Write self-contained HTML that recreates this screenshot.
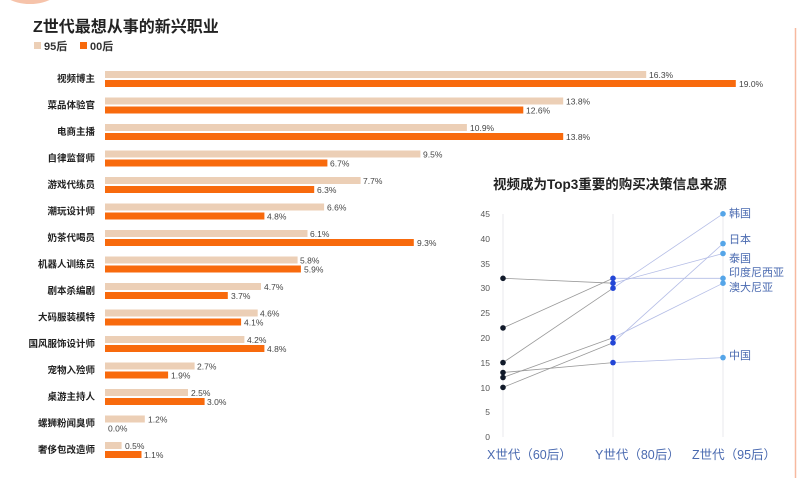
<!DOCTYPE html>
<html><head><meta charset="utf-8"><style>
body{margin:0;background:#fff;}
svg{display:block;font-family:"Liberation Sans","Noto Sans CJK SC",sans-serif;}
</style></head><body>
<svg width="800" height="478" viewBox="0 0 800 478" xmlns="http://www.w3.org/2000/svg">
<rect width="800" height="478" fill="#fff"/>
<ellipse cx="30" cy="-18" rx="34" ry="22" fill="#f6c3aa"/>
<line x1="795.5" y1="28" x2="795.5" y2="478" stroke="#f7b9a0" stroke-width="1.5"/>
<text x="33" y="32" font-size="16" font-weight="bold" fill="#222">Z世代最想从事的新兴职业</text>
<rect x="34" y="42" width="7" height="7" fill="#eccfb6"/>
<text x="44" y="50" font-size="11" font-weight="bold" fill="#333">95后</text>
<rect x="80" y="42" width="7" height="7" fill="#f86a0d"/>
<text x="90" y="50" font-size="11" font-weight="bold" fill="#333">00后</text>
<g font-size="9.5" font-weight="bold" fill="#222" text-anchor="end">
<text x="95" y="82">视频博主</text>
<text x="95" y="108.5">菜品体验官</text>
<text x="95" y="135">电商主播</text>
<text x="95" y="161.5">自律监督师</text>
<text x="95" y="188">游戏代练员</text>
<text x="95" y="214.5">潮玩设计师</text>
<text x="95" y="241">奶茶代喝员</text>
<text x="95" y="267.5">机器人训练员</text>
<text x="95" y="294">剧本杀编剧</text>
<text x="95" y="320.5">大码服装模特</text>
<text x="95" y="347">国风服饰设计师</text>
<text x="95" y="373.5">宠物入殓师</text>
<text x="95" y="400">桌游主持人</text>
<text x="95" y="426.5">螺狮粉闻臭师</text>
<text x="95" y="453">奢侈包改造师</text>
</g>
<g fill="#eccfb6">
<rect x="105" y="71" width="541.2" height="7"/>
<rect x="105" y="97.5" width="458.2" height="7"/>
<rect x="105" y="124" width="361.9" height="7"/>
<rect x="105" y="150.5" width="315.4" height="7"/>
<rect x="105" y="177" width="255.6" height="7"/>
<rect x="105" y="203.5" width="219.1" height="7"/>
<rect x="105" y="230" width="202.5" height="7"/>
<rect x="105" y="256.5" width="192.6" height="7"/>
<rect x="105" y="283" width="156" height="7"/>
<rect x="105" y="309.5" width="152.7" height="7"/>
<rect x="105" y="336" width="139.4" height="7"/>
<rect x="105" y="362.5" width="89.6" height="7"/>
<rect x="105" y="389" width="83" height="7"/>
<rect x="105" y="415.5" width="39.8" height="7"/>
<rect x="105" y="442" width="16.6" height="7"/>
</g>
<g fill="#f86a0d">
<rect x="105" y="80" width="630.8" height="7"/>
<rect x="105" y="106.5" width="418.3" height="7"/>
<rect x="105" y="133" width="458.2" height="7"/>
<rect x="105" y="159.5" width="222.4" height="7"/>
<rect x="105" y="186" width="209.2" height="7"/>
<rect x="105" y="212.5" width="159.4" height="7"/>
<rect x="105" y="239" width="308.8" height="7"/>
<rect x="105" y="265.5" width="195.9" height="7"/>
<rect x="105" y="292" width="122.8" height="7"/>
<rect x="105" y="318.5" width="136.1" height="7"/>
<rect x="105" y="345" width="159.4" height="7"/>
<rect x="105" y="371.5" width="63.1" height="7"/>
<rect x="105" y="398" width="99.6" height="7"/>
<rect x="105" y="451" width="36.5" height="7"/>
</g>
<g font-size="8.5" fill="#444">
<text x="649" y="78">16.3%</text><text x="739" y="87">19.0%</text>
<text x="566" y="104.5">13.8%</text><text x="526" y="113.5">12.6%</text>
<text x="470" y="131">10.9%</text><text x="566" y="140">13.8%</text>
<text x="423" y="157.5">9.5%</text><text x="330" y="166.5">6.7%</text>
<text x="363" y="184">7.7%</text><text x="317" y="193">6.3%</text>
<text x="327" y="210.5">6.6%</text><text x="267" y="219.5">4.8%</text>
<text x="310" y="237">6.1%</text><text x="417" y="246">9.3%</text>
<text x="300" y="263.5">5.8%</text><text x="304" y="272.5">5.9%</text>
<text x="264" y="290">4.7%</text><text x="231" y="299">3.7%</text>
<text x="260" y="316.5">4.6%</text><text x="244" y="325.5">4.1%</text>
<text x="247" y="343">4.2%</text><text x="267" y="352">4.8%</text>
<text x="197" y="369.5">2.7%</text><text x="171" y="378.5">1.9%</text>
<text x="191" y="396">2.5%</text><text x="207" y="405">3.0%</text>
<text x="148" y="422.5">1.2%</text><text x="108" y="431.5">0.0%</text>
<text x="125" y="449">0.5%</text><text x="144" y="458">1.1%</text>
</g>
<!-- right chart -->
<text x="493" y="189" font-size="13.5" font-weight="bold" fill="#222">视频成为Top3重要的购买决策信息来源</text>
<g stroke="#e8e8ee" stroke-width="1">
<line x1="503" y1="214" x2="503" y2="437"/>
<line x1="613" y1="214" x2="613" y2="437"/>
<line x1="723" y1="214" x2="723" y2="437"/>
</g>
<g font-size="8.5" fill="#555" text-anchor="end">
<text x="490" y="217">45</text><text x="490" y="242">40</text><text x="490" y="267">35</text>
<text x="490" y="291">30</text><text x="490" y="316">25</text><text x="490" y="341">20</text>
<text x="490" y="366">15</text><text x="490" y="391">10</text><text x="490" y="415">5</text>
<text x="490" y="440">0</text>
</g>
<g stroke="#999" stroke-width="0.8" fill="none">
<line x1="503" y1="278.3" x2="613" y2="283.2"/>
<line x1="503" y1="327.9" x2="613" y2="278.3"/>
<line x1="503" y1="362.6" x2="613" y2="288.2"/>
<line x1="503" y1="372.5" x2="613" y2="362.6"/>
<line x1="503" y1="377.5" x2="613" y2="337.8"/>
<line x1="503" y1="387.4" x2="613" y2="342.8"/>
</g>
<g stroke="#b4bde6" stroke-width="0.8" fill="none">
<line x1="613" y1="288.2" x2="723" y2="213.8"/>
<line x1="613" y1="342.8" x2="723" y2="243.6"/>
<line x1="613" y1="283.2" x2="723" y2="253.5"/>
<line x1="613" y1="278.3" x2="723" y2="278.3"/>
<line x1="613" y1="337.8" x2="723" y2="283.2"/>
<line x1="613" y1="362.6" x2="723" y2="357.6"/>
</g>
<g fill="#111a2a">
<circle cx="503" cy="278.3" r="2.8"/><circle cx="503" cy="327.9" r="2.8"/>
<circle cx="503" cy="362.6" r="2.8"/><circle cx="503" cy="372.5" r="2.8"/>
<circle cx="503" cy="377.5" r="2.8"/><circle cx="503" cy="387.4" r="2.8"/>
</g>
<g fill="#2346d6">
<circle cx="613" cy="278.3" r="2.8"/><circle cx="613" cy="283.2" r="2.8"/>
<circle cx="613" cy="288.2" r="2.8"/><circle cx="613" cy="337.8" r="2.8"/>
<circle cx="613" cy="342.8" r="2.8"/><circle cx="613" cy="362.6" r="2.8"/>
</g>
<g fill="#55a5e8">
<circle cx="723" cy="213.8" r="2.8"/><circle cx="723" cy="243.6" r="2.8"/>
<circle cx="723" cy="253.5" r="2.8"/><circle cx="723" cy="278.3" r="2.8"/>
<circle cx="723" cy="283.2" r="2.8"/><circle cx="723" cy="357.6" r="2.8"/>
</g>
<g font-size="11" fill="#4a6ab0">
<text x="729" y="217">韩国</text><text x="729" y="243">日本</text>
<text x="729" y="262">泰国</text><text x="729" y="276">印度尼西亚</text>
<text x="729" y="291">澳大尼亚</text><text x="729" y="359">中国</text>
</g>
<g font-size="12.5" fill="#4a6ab0">
<text x="487" y="459">X世代（60后）</text>
<text x="595" y="459">Y世代（80后）</text>
<text x="692" y="459">Z世代（95后）</text>
</g>
</svg>
</body></html>
